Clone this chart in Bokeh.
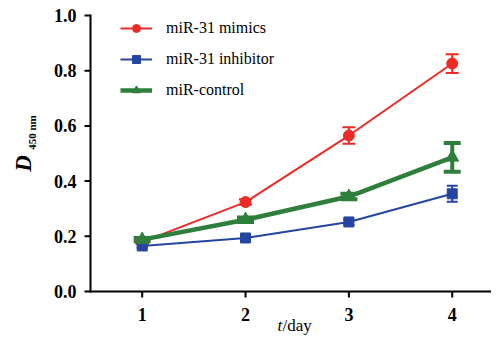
from bokeh.plotting import figure
from bokeh.models import (ColumnDataSource, Whisker, TeeHead, Legend, LegendItem,
                          Label, FixedTicker, NumeralTickFormatter)
from bokeh.embed import file_html
from bokeh.resources import INLINE
import math

days = [1, 2, 3, 4]
mimics = [0.180, 0.324, 0.565, 0.826]
mimics_err = [0.008, 0.010, 0.030, 0.034]
inhibitor = [0.165, 0.194, 0.252, 0.354]
inhibitor_err = [0.006, 0.008, 0.010, 0.029]
control = [0.188, 0.260, 0.344, 0.486]
control_err = [0.006, 0.008, 0.010, 0.052]
series_names = ["miR-31 mimics", "miR-31 inhibitor", "miR-control"]
y_ticks = [0.0, 0.2, 0.4, 0.6, 0.8, 1.0]

RED = "#ec2b26"
BLUE = "#2445a2"
GREEN = "#2f7f3c"
FONT = "Liberation Serif"

W, H = 491, 335
X_START, X_END = -0.371, 4.38
AX_X = 0.5          # where the y axis crosses
p = figure(width=W, height=H, output_backend="svg", toolbar_location=None,
           x_range=(X_START, X_END), y_range=(-0.1594, 1.0543),
           min_border=0)
p.outline_line_color = None
p.grid.visible = False

# axes (tick labels) drawn inside the frame at fixed data positions
p.xaxis.fixed_location = y_ticks[0]
p.yaxis.fixed_location = AX_X
for ax in (p.xaxis[0], p.yaxis[0]):
    ax.axis_line_color = None
    ax.major_tick_line_color = None
    ax.minor_tick_line_color = None
    ax.major_tick_out = 6
    ax.major_tick_in = 0
    ax.major_label_text_font = FONT
    ax.major_label_text_font_size = "18px"
    ax.major_label_text_font_style = "bold"
    ax.major_label_text_color = "black"

p.xaxis.ticker = FixedTicker(ticks=days)
p.yaxis.ticker = FixedTicker(ticks=y_ticks)
p.yaxis.formatter = NumeralTickFormatter(format="0.0")
p.xaxis.major_label_standoff = 10
p.yaxis.major_label_standoff = 8

# axis rules and tick marks
p.segment(x0=[AX_X, AX_X], y0=[y_ticks[0], y_ticks[0]],
          x1=[AX_X, X_END], y1=[y_ticks[-1], y_ticks[0]],
          line_color="black", line_width=2, line_cap="square")
p.ray(x=[AX_X] * len(y_ticks), y=y_ticks, length=6, length_units="screen",
      angle=math.pi, line_color="black", line_width=2)
p.ray(x=days, y=[y_ticks[0]] * len(days), length=6, length_units="screen",
      angle=-math.pi / 2, line_color="black", line_width=2)

def add_series(vals, errs, color, lw, marker, msize, cap_w, cap_lw):
    src = ColumnDataSource(dict(x=days, y=vals,
                                lo=[v - e for v, e in zip(vals, errs)],
                                hi=[v + e for v, e in zip(vals, errs)]))
    w = Whisker(base="x", lower="lo", upper="hi", source=src,
                line_color=color, line_width=cap_lw,
                upper_head=TeeHead(size=cap_w, line_color=color, line_width=cap_lw),
                lower_head=TeeHead(size=cap_w, line_color=color, line_width=cap_lw))
    p.add_layout(w)
    l = p.line("x", "y", source=src, line_color=color, line_width=lw)
    m = p.scatter("x", "y", source=src, marker=marker, size=msize,
                  fill_color=color, line_color=color)
    return [l, m]

r_red = add_series(mimics, mimics_err, RED, 2, "circle", 11, 13, 2)
r_blue = add_series(inhibitor, inhibitor_err, BLUE, 2, "square", 10, 11, 2)
r_green = add_series(control, control_err, GREEN, 4.5, "triangle", 13, 17, 4)

legend = Legend(items=[LegendItem(label=series_names[0], renderers=r_red),
                       LegendItem(label=series_names[1], renderers=r_blue),
                       LegendItem(label=series_names[2], renderers=r_green)],
                location=(120, H - 100), padding=0, margin=0, spacing=11,
                glyph_width=32, glyph_height=20, label_height=20,
                label_standoff=14, border_line_color=None,
                background_fill_alpha=0,
                label_text_font=FONT, label_text_font_size="16px",
                label_text_color="black")
p.add_layout(legend)

# axis titles in screen units (frame == whole canvas)
p.add_layout(Label(x=23, y=H - 163, x_units="screen", y_units="screen",
                   text="D", angle=math.pi / 2, text_font=FONT,
                   text_font_size="23px", text_font_style="bold italic",
                   text_align="center", text_baseline="middle", text_color="black"))
p.add_layout(Label(x=31, y=H - 132, x_units="screen", y_units="screen",
                   text="450 nm", angle=math.pi / 2, text_font=FONT,
                   text_font_size="11px", text_font_style="bold",
                   text_align="center", text_baseline="middle", text_color="black"))
p.add_layout(Label(x=277, y=H - 325, x_units="screen", y_units="screen",
                   text="t", text_font=FONT, text_font_size="17px",
                   text_font_style="italic", text_align="left",
                   text_baseline="middle", text_color="black"))
p.add_layout(Label(x=282, y=H - 325, x_units="screen", y_units="screen",
                   text="/day", text_font=FONT, text_font_size="17px",
                   text_align="left", text_baseline="middle", text_color="black"))

open("out.html", "w").write(file_html(p, INLINE))
